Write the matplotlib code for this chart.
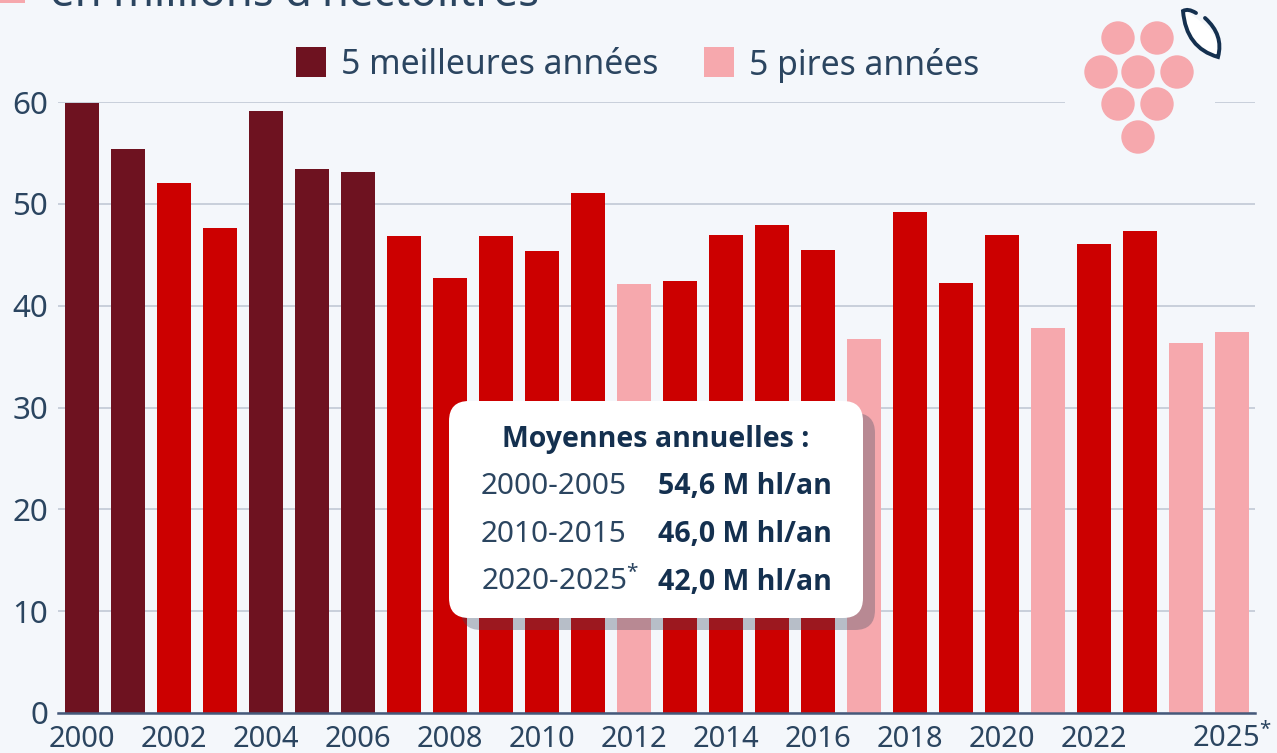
#!/usr/bin/env python3
"""Plot French wine production per year with best and worst years."""

from __future__ import annotations

import matplotlib.pyplot as plt
from matplotlib.patches import Circle, FancyBboxPatch, PathPatch, Rectangle
from matplotlib.path import Path

years = list(range(2000, 2026))
production = [
    59.9, 55.4, 52.0, 47.6, 59.1, 53.4, 53.1, 46.8, 42.7, 46.8, 45.4, 51.1, 42.1,
    42.4, 46.9, 47.9, 45.5, 36.7, 49.2, 42.2, 46.9, 37.8, 46.1, 47.3, 36.3, 37.4,
]
best_years = [2000, 2001, 2004, 2005, 2006]
worst_years = [2012, 2017, 2021, 2024, 2025]
tick_years = [2000, 2002, 2004, 2006, 2008, 2010, 2012, 2014, 2016, 2018, 2020, 2022, 2025]
tick_labels = [str(y) for y in tick_years[:-1]] + ["2025$^{*}$"]
y_ticks = [0, 10, 20, 30, 40, 50, 60]

average_title = "Moyennes annuelles :"
average_periods = ["2000-2005", "2010-2015", "2020-2025$^{*}$"]
average_values = ["54,6 M hl/an", "46,0 M hl/an", "42,0 M hl/an"]

BG = "#f4f7fb"
DARK = "#6e1220"
RED = "#cc0000"
PINK = "#f6a8ad"
INK = "#2b4560"
NAVY = "#14304f"
GRID = "#c8cfdb"

W, H = 1277, 753


def main() -> None:
    plt.rcParams["font.family"] = ["Noto Sans", "DejaVu Sans"]
    plt.rcParams["mathtext.default"] = "regular"

    fig = plt.figure(figsize=(W / 100, H / 100), dpi=100, facecolor=BG)

    # pixel box of the plot area: x 58-1255, y 102-713
    ax = fig.add_axes([58 / W, 1 - 713 / H, (1255 - 58) / W, (713 - 102) / H], facecolor=BG)
    colors = [DARK if y in best_years else PINK if y in worst_years else RED for y in years]
    ax.bar(years, production, width=0.74, color=colors, zorder=3)
    ax.set_xlim(1999.48, 2025.5)
    ax.set_ylim(0, 60)
    ax.set_yticks(y_ticks)
    ax.set_xticks(tick_years, tick_labels)
    ax.grid(axis="y", color=GRID, linewidth=1.4, zorder=1)
    ax.tick_params(axis="both", length=0, labelcolor=INK)
    # baseline alignment so the starred label stays level with the others
    ax.tick_params(axis="x", labelsize=21, pad=24.5)
    ax.tick_params(axis="y", labelsize=22.5, pad=7)
    for label in ax.get_xticklabels():
        label.set_verticalalignment("baseline")
    for name in ("top", "left", "right"):
        ax.spines[name].set_visible(False)
    ax.spines["bottom"].set_color("#45597a")
    ax.spines["bottom"].set_linewidth(1.8)
    ax.spines["bottom"].set_zorder(5)

    # overlay in image pixels for legend, icon and the averages box
    ov = fig.add_axes([0, 0, 1, 1], facecolor="none")
    ov.set_xlim(0, W)
    ov.set_ylim(H, 0)
    ov.axis("off")

    ov.add_patch(Rectangle((0, -20), 25, 23, color=PINK, lw=0))
    ov.text(50, 6, "en millions d'hectolitres", fontsize=31.5, color=INK, ha="left", va="baseline")

    ov.add_patch(Rectangle((296, 47), 30, 30, color=DARK, lw=0))
    ov.text(341, 65, "5 meilleures années", fontsize=24.3, color=INK, va="center")
    ov.add_patch(Rectangle((704, 47), 30, 30, color=PINK, lw=0))
    ov.text(749, 65, "5 pires années", fontsize=24.3, color=INK, va="center")

    # grape icon, sits on a gap in the top gridline
    ov.add_patch(Rectangle((1065, 96), 150, 12, color=BG, lw=0))
    for cx, cy in [(1118, 38), (1157, 38), (1101, 72), (1138, 72), (1177, 72),
                   (1118, 104), (1157, 104), (1138, 137)]:
        ov.add_patch(Circle((cx, cy), 16.7, color=PINK, lw=0))
    leaf_fill = Path(
        [(1183, 10), (1186, 48), (1218, 57), (1224, 32), (1183, 10)],
        [Path.MOVETO, Path.CURVE3, Path.CURVE3, Path.CURVE3, Path.CURVE3],
    )
    ov.add_patch(PathPatch(leaf_fill, facecolor="white", edgecolor="none"))
    leaf_line = Path(
        [(1196, 13), (1188, 8), (1183, 11), (1186, 48), (1218, 57), (1224, 35), (1205, 18)],
        [Path.MOVETO, Path.CURVE3, Path.CURVE3, Path.CURVE3, Path.CURVE3, Path.CURVE3, Path.CURVE3],
    )
    ov.add_patch(PathPatch(leaf_line, facecolor="none", edgecolor=NAVY, linewidth=2.8, capstyle="round"))

    # averages box with its shadow
    ov.add_patch(FancyBboxPatch((461 + 20, 413 + 20), 414 - 40, 217 - 40,
                                boxstyle="round,pad=20,rounding_size=20",
                                facecolor="#3c4a60", alpha=0.33, edgecolor="none"))
    ov.add_patch(FancyBboxPatch((449 + 20, 401 + 20), 414 - 40, 217 - 40,
                                boxstyle="round,pad=20,rounding_size=20",
                                facecolor="white", edgecolor="none"))
    ov.text(656, 447, average_title, fontsize=20.5, fontweight="bold", family="Open Sans",
            color=NAVY, ha="center", va="baseline")
    for i, (period, value) in enumerate(zip(average_periods, average_values)):
        y = 494 + i * 48
        ov.text(481, y, period, fontsize=21.4, color=INK, va="baseline")
        ov.text(658, y, value, fontsize=20.5, fontweight="bold", family="Open Sans", color=NAVY, va="baseline")

    fig.savefig("out.png", dpi=100, facecolor=BG)
    plt.close(fig)


if __name__ == "__main__":
    main()
